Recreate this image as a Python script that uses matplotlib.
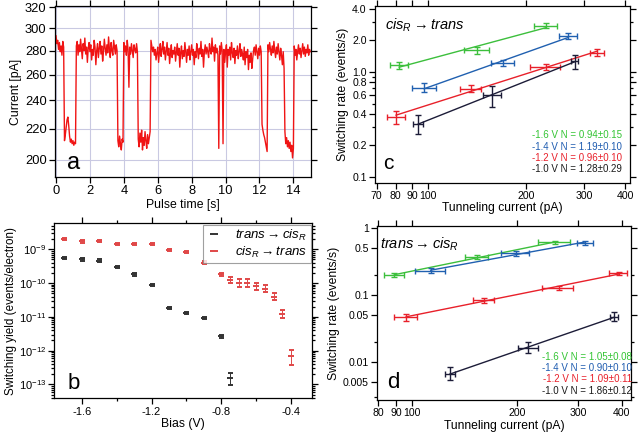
import matplotlib
matplotlib.use('Agg')
import matplotlib.pyplot as plt
import numpy as np
from matplotlib.ticker import FixedLocator, NullLocator, NullFormatter, FixedFormatter
from matplotlib.lines import Line2D

plt.rcParams['font.family'] = ['Liberation Sans', 'DejaVu Sans']
plt.rcParams['mathtext.fontset'] = 'custom'
plt.rcParams['mathtext.it'] = 'Liberation Sans:italic'
plt.rcParams['mathtext.rm'] = 'Liberation Sans'

# ---------------- Panel a data: current trace sampled every 0.05 s ----------------
sample_interval_s = 0.05
current_pA = [
    293, 286, 289, 281, 287, 279, 284, 276, 288, 283, 212, 216, 221, 226, 228, 222, 215, 211, 213, 210,
    212, 209, 211, 210, 284, 288, 276, 285, 279, 290, 281, 273, 286, 280, 291, 277, 283, 270, 282, 287,
    279, 285, 272, 281, 276, 289, 283, 268, 280, 286, 274, 282, 288, 277, 284, 271, 279, 290, 282, 276,
    285, 278, 292, 281, 274, 287, 280, 276, 289, 283, 277, 285, 280, 212, 208, 215, 210, 206, 213, 211,
    287, 279, 284, 276, 289, 281, 250, 283, 277, 286, 280, 274, 285, 281, 278, 286, 279, 213, 208, 217,
    211, 219, 206, 214, 209, 218, 212, 207, 216, 210, 214, 218, 289, 284, 279, 283, 276, 281, 272, 278,
    283, 270, 279, 286, 275, 281, 288, 277, 283, 272, 279, 287, 276, 282, 269, 278, 285, 274, 280, 277,
    283, 271, 279, 286, 276, 282, 266, 278, 284, 273, 280, 275, 287, 279, 270, 281, 276, 284, 272, 279,
    285, 276, 281, 268, 279, 274, 286, 280, 273, 282, 277, 288, 275, 281, 266, 279, 285, 277, 283, 279,
    274, 286, 280, 277, 291, 279, 283, 271, 285, 278, 282, 276, 207, 284, 277, 287, 280, 210, 281, 270,
    279, 285, 266, 281, 276, 283, 272, 287, 278, 274, 282, 269, 280, 276, 284, 273, 279, 286, 275, 281,
    277, 272, 283, 268, 279, 274, 281, 264, 276, 270, 278, 265, 273, 280, 283, 276, 285, 279, 273, 282,
    276, 284, 279, 223, 219, 216, 214, 211, 208, 205, 285, 279, 287, 281, 276, 284, 278, 288, 280, 274,
    283, 277, 286, 279, 272, 282, 276, 268, 279, 265, 218, 210, 214, 208, 212, 207, 211, 205, 209, 201,
    207, 284, 276, 281, 272, 279, 285, 277, 282, 274, 280, 286, 277, 283, 275, 281, 278, 285, 276, 281,
    279,
]

# ---------------- Panel b data ----------------
bias_t2c = [-1.7, -1.6, -1.5, -1.4, -1.3, -1.2, -1.1, -1.0, -0.9, -0.8, -0.75]
yield_t2c = [5.6e-10, 5.0e-10, 4.6e-10, 3.0e-10, 1.8e-10, 8.9e-11, 1.85e-11, 1.3e-11, 9.2e-12, 2.7e-12, 1.5e-13]
yerr_t2c_lo = [0.4e-10, 0.4e-10, 0.4e-10, 0.25e-10, 0.15e-10, 0.8e-11, 0.15e-11, 0.1e-11, 0.8e-12, 0.3e-12, 0.55e-13]
yerr_t2c_hi = [0.4e-10, 0.4e-10, 0.4e-10, 0.25e-10, 0.15e-10, 0.8e-11, 0.15e-11, 0.1e-11, 0.8e-12, 0.3e-12, 0.7e-13]

bias_c2t = [-1.7, -1.6, -1.5, -1.4, -1.3, -1.2, -1.1, -1.0, -0.9, -0.8, -0.75, -0.7, -0.65, -0.6, -0.55, -0.5, -0.45, -0.4]
yield_c2t = [2.05e-9, 1.7e-9, 1.8e-9, 1.4e-9, 1.45e-9, 1.45e-9, 9.7e-10, 8.3e-10, 4.0e-10, 1.8e-10,
             1.25e-10, 1.0e-10, 1.02e-10, 8.0e-11, 6.8e-11, 4.0e-11, 1.25e-11, 6.9e-13]
yerr_c2t_lo = [1.5e-10, 1.3e-10, 1.3e-10, 1.0e-10, 1.0e-10, 1.0e-10, 0.8e-10, 0.6e-10, 0.35e-10, 0.15e-10,
               0.25e-10, 0.25e-10, 0.25e-10, 0.18e-10, 0.14e-10, 0.9e-11, 0.3e-11, 3.2e-13]
yerr_c2t_hi = [1.5e-10, 1.3e-10, 1.3e-10, 1.0e-10, 1.0e-10, 1.0e-10, 0.8e-10, 0.6e-10, 0.35e-10, 0.15e-10,
               0.3e-10, 0.3e-10, 0.3e-10, 0.2e-10, 0.17e-10, 1.1e-11, 0.35e-11, 3.5e-13]
b_ytick_exponents = [-13, -12, -11, -10, -9]

# ---------------- Panel c data (cis_R -> trans) ----------------
c_series = ['-1.6 V', '-1.4 V', '-1.2 V', '-1.0 V']
c_N = ['0.94\u00b10.15', '1.19\u00b10.10', '0.96\u00b10.10', '1.28\u00b10.29']
c_x = [[82.0, 141.6, 229.5], [97.7, 170.3, 268.4], [80.2, 135.4, 229.5, 329.0], [93.7, 157.6, 280.6]]
c_xerr = [[5.1, 12.2, 18.5], [8.3, 13.7, 17.6], [5.1, 10.0, 24.5, 17.0], [3.5, 10.4, 6.0]]
c_y = [[1.16, 1.61, 2.78], [0.709, 1.22, 2.20], [0.371, 0.694, 1.12, 1.53], [0.321, 0.598, 1.26]]
c_yerr = [[0.09, 0.13, 0.17], [0.07, 0.08, 0.15], [0.05, 0.05, 0.08, 0.12], [0.065, 0.13, 0.2]]

# ---------------- Panel d data (trans -> cis_R) ----------------
d_series = ['-1.6 V', '-1.4 V', '-1.2 V', '-1.0 V']
d_N = ['1.05\u00b10.08', '0.90\u00b10.10', '1.09\u00b10.11', '1.86\u00b10.12']
d_x = [[89.1, 153.7, 257.0], [113.2, 198.7, 314.0], [96.3, 161.0, 263.6, 391.7], [128.5, 216.0, 380.0]]
d_xerr = [[5.7, 11.9, 27.5], [11.0, 18.0, 16.5], [7.2, 11.0, 27.0, 23.0], [4.3, 14.7, 10.0]]
d_y = [[0.2, 0.367, 0.616], [0.231, 0.42, 0.608], [0.047, 0.084, 0.1287, 0.211], [0.0067, 0.0162, 0.0473]]
d_yerr_lo = [[0.012, 0.025, 0.03], [0.02, 0.03, 0.04], [0.006, 0.007, 0.01, 0.014], [0.0013, 0.0028, 0.0066]]
d_yerr_hi = [[0.012, 0.025, 0.03], [0.02, 0.03, 0.04], [0.006, 0.007, 0.01, 0.014], [0.0017, 0.0037, 0.009]]

series_colors = ['#3cbf3c', '#2060b0', '#e8202a', '#1c1c38']
text_colors = ['#33c433', '#1f5cb0', '#e8202a', '#1a1a1a']


def style(ax, lab=9):
    ax.tick_params(which='both', direction='out', top=True, right=True,
                   labeltop=False, labelright=False, width=0.9, labelsize=lab, pad=2)
    ax.tick_params(which='major', length=4)
    ax.tick_params(which='minor', length=2.2)
    for s in ax.spines.values():
        s.set_linewidth(0.9)


fig = plt.figure(figsize=(6.38, 4.37), dpi=100)

# ======================= Panel a =======================
axa = fig.add_axes([0.0862, 0.595, 0.4013, 0.3913])
t = np.arange(len(current_pA)) * sample_interval_s
axa.plot(t, current_pA, color='#f01414', lw=1.0)
axa.set_yscale('log')
axa.set_xlim(-0.06, 15.04)
axa.set_ylim(189.5, 321.3)
axa.yaxis.set_major_locator(FixedLocator([200, 220, 240, 260, 280, 300, 320]))
axa.yaxis.set_major_formatter(FixedFormatter(['200', '220', '240', '260', '280', '300', '320']))
axa.yaxis.set_minor_locator(NullLocator())
axa.yaxis.set_minor_formatter(NullFormatter())
axa.set_xticks(np.arange(0, 15, 2))
axa.grid(True, color='#c9c9e2', lw=0.8)
axa.set_axisbelow(True)
style(axa, 9.3)
axa.set_xlabel('Pulse time [s]', fontsize=8.8, labelpad=1)
axa.set_ylabel('Current [pA]', fontsize=8.8, labelpad=2)
axa.text(0.047, 0.08, 'a', transform=axa.transAxes, fontsize=17, ha='left', va='center')

# ======================= Panel b =======================
axb = fig.add_axes([0.0851, 0.0886, 0.4039, 0.4005])
axb.errorbar(bias_t2c, yield_t2c, yerr=[yerr_t2c_lo, yerr_t2c_hi], fmt='_', color='#333333',
             ms=4, mew=1.4, elinewidth=0.7, capsize=1.8, capthick=0.7)
axb.errorbar(bias_c2t, yield_c2t, yerr=[yerr_c2t_lo, yerr_c2t_hi], fmt='_', color='#e04848',
             ms=4, mew=1.4, elinewidth=0.7, capsize=1.8, capthick=0.7)
axb.set_yscale('log')
axb.set_xlim(-1.758, -0.28)
axb.set_ylim(10 ** -13.41, 10 ** -8.23)
axb.xaxis.set_major_locator(FixedLocator([-1.6, -1.2, -0.8, -0.4]))
axb.xaxis.set_major_formatter(FixedFormatter(['-1.6', '-1.2', '-0.8', '-0.4']))
axb.xaxis.set_minor_locator(FixedLocator([-1.4, -1.0, -0.6]))
axb.xaxis.set_minor_formatter(NullFormatter())
axb.yaxis.set_major_locator(FixedLocator([10.0 ** e for e in b_ytick_exponents]))
axb.yaxis.set_major_formatter(FixedFormatter([r'$10^{%d}$' % e for e in b_ytick_exponents]))
b_minor = [m * 10.0 ** e for e in [-14] + b_ytick_exponents for m in range(2, 10)]
b_minor = [v for v in b_minor if 10 ** -13.41 < v < 10 ** -8.23]
axb.yaxis.set_minor_locator(FixedLocator(b_minor))
axb.yaxis.set_minor_formatter(NullFormatter())
style(axb, 8)
axb.set_xlabel('Bias (V)', fontsize=8.8, labelpad=1)
axb.set_ylabel('Switching yield (events/electron)', fontsize=8.4, labelpad=1)
axb.text(0.053, 0.086, 'b', transform=axb.transAxes, fontsize=16, ha='left', va='center')
handles = [Line2D([], [], ls='none', marker='_', ms=6, mew=1.4, color='#333333'),
           Line2D([], [], ls='none', marker='_', ms=6, mew=1.4, color='#e04848')]
leg = axb.legend(handles, [r'$\mathit{trans} \rightarrow \mathit{cis}_{R}$',
                           r'$\mathit{cis}_{R} \rightarrow \mathit{trans}$'],
                 loc='upper right', fontsize=9.5, frameon=True, fancybox=False, borderpad=0.25,
                 handlelength=1.2, handletextpad=1.0, labelspacing=0.15, borderaxespad=0.1)
leg.get_frame().set_edgecolor('#888888')
leg.get_frame().set_linewidth(0.8)


def rate_panel(ax, xs, xerrs, ys, yerr_lo, yerr_hi):
    for i in range(len(xs)):
        col = series_colors[i]
        x = np.array(xs[i]); y = np.array(ys[i])
        ax.errorbar(x, y, xerr=xerrs[i], yerr=[yerr_lo[i], yerr_hi[i]], fmt='none', ecolor=col,
                    elinewidth=1.0, capsize=2, capthick=1.0)
        p = np.polyfit(np.log10(x), np.log10(y), 1)
        xf = np.array([x[0], x[-1]])
        ax.plot(xf, 10 ** np.polyval(p, np.log10(xf)), color=col, lw=1.0)
    ax.set_xscale('log')
    ax.set_yscale('log')


# ======================= Panel c =======================
axc = fig.add_axes([0.5878, 0.5819, 0.3997, 0.4044])
rate_panel(axc, c_x, c_xerr, c_y, c_yerr, c_yerr)
axc.set_xlim(69.2, 414)
axc.set_ylim(0.0876, 4.27)
cxt = [70, 80, 90, 100, 200, 300, 400]
axc.xaxis.set_major_locator(FixedLocator(cxt))
axc.xaxis.set_major_formatter(FixedFormatter([str(v) for v in cxt]))
axc.xaxis.set_minor_locator(NullLocator())
cyt = [0.1, 0.2, 0.4, 0.6, 0.8, 1.0, 2.0, 4.0]
axc.yaxis.set_major_locator(FixedLocator(cyt))
axc.yaxis.set_major_formatter(FixedFormatter(['%.1f' % v for v in cyt]))
axc.yaxis.set_minor_locator(FixedLocator([0.3, 0.5, 0.7, 0.9, 3.0]))
axc.yaxis.set_minor_formatter(NullFormatter())
style(axc, 7.6)
axc.set_xlabel('Tunneling current (pA)', fontsize=8.7, labelpad=1)
axc.set_ylabel('Switching rate (events/s)', fontsize=8.7, labelpad=2)
axc.text(0.04, 0.89, r'$\mathit{cis}_{R} \rightarrow \mathit{trans}$', transform=axc.transAxes,
         fontsize=10.5, ha='left', va='center')
axc.text(0.031, 0.11, 'c', transform=axc.transAxes, fontsize=15, ha='left', va='center')
for i, yy in enumerate([0.27, 0.204, 0.14, 0.077]):
    axc.text(0.967, yy, '%s N = %s' % (c_series[i], c_N[i]), transform=axc.transAxes,
             fontsize=7, color=text_colors[i], ha='right', va='center')

# ======================= Panel d =======================
axd = fig.add_axes([0.5914, 0.0847, 0.3976, 0.3982])
rate_panel(axd, d_x, d_xerr, d_y, d_yerr_lo, d_yerr_hi)
axd.set_xlim(79.6, 425)
axd.set_ylim(0.0027, 1.08)
dxt = [80, 90, 100, 200, 300, 400]
axd.xaxis.set_major_locator(FixedLocator(dxt))
axd.xaxis.set_major_formatter(FixedFormatter([str(v) for v in dxt]))
axd.xaxis.set_minor_locator(NullLocator())
dyt = [0.005, 0.01, 0.05, 0.1, 0.5, 1]
axd.yaxis.set_major_locator(FixedLocator(dyt))
axd.yaxis.set_major_formatter(FixedFormatter(['0.005', '0.01', '0.05', '0.1', '0.5', '1']))
axd.yaxis.set_minor_locator(FixedLocator([0.003, 0.02, 0.2]))
axd.yaxis.set_minor_formatter(NullFormatter())
style(axd, 7.6)
axd.set_xlabel('Tunneling current (pA)', fontsize=8.7, labelpad=1)
axd.set_ylabel('Switching rate (events/s)', fontsize=8.7, labelpad=2)
axd.text(0.01, 0.897, r'$\mathit{trans} \rightarrow \mathit{cis}_{R}$', transform=axd.transAxes,
         fontsize=10.5, ha='left', va='center')
axd.text(0.037, 0.098, 'd', transform=axd.transAxes, fontsize=16, ha='left', va='center')
for i, yy in enumerate([0.249, 0.182, 0.119, 0.053]):
    axd.text(1.003, yy, '%s N = %s' % (d_series[i], d_N[i]), transform=axd.transAxes,
             fontsize=7, color=text_colors[i], ha='right', va='center')

fig.savefig('out.png', dpi=100)
